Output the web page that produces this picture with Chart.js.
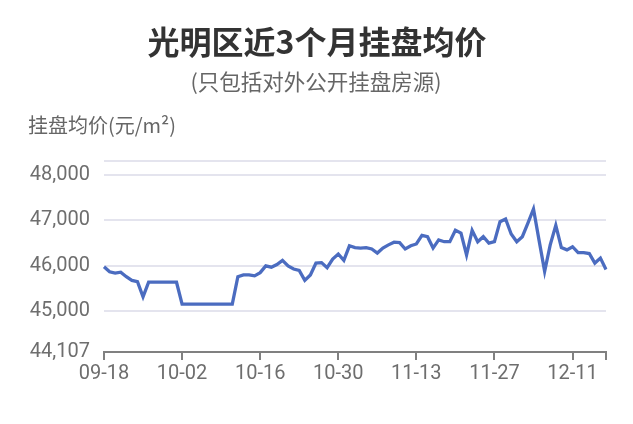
<!DOCTYPE html>
<html>
<head>
<meta charset="utf-8">
<script src="https://cdn.jsdelivr.net/npm/chart.js@4.4.1/dist/chart.umd.min.js"></script>
<style>
  html, body { margin: 0; padding: 0; background: #fff; }
  #wrap { width: 633px; height: 424px; position: relative; }
</style>
</head>
<body>
<div id="wrap"><canvas id="c" width="633" height="424"></canvas></div>
<script>
// Textos
var titulo = "光明区近3个月挂盘均价";
var subtitulo = "(只包括对外公开挂盘房源)";
var etiquetaY = "挂盘均价(元/m²)";

// Fechas (categorías)
var fechas = [
  "09-18","09-19","09-20","09-21","09-22","09-23","09-24","09-25","09-26","09-27","09-28","09-29","09-30",
  "10-01","10-02","10-03","10-04","10-05","10-06","10-07","10-08","10-09","10-10","10-11","10-12","10-13",
  "10-14","10-15","10-16","10-17","10-18","10-19","10-20","10-21","10-22","10-23","10-24","10-25","10-26",
  "10-27","10-28","10-29","10-30","10-31","11-01","11-02","11-03","11-04","11-05","11-06","11-07","11-08",
  "11-09","11-10","11-11","11-12","11-13","11-14","11-15","11-16","11-17","11-18","11-19","11-20","11-21",
  "11-22","11-23","11-24","11-25","11-26","11-27","11-28","11-29","11-30","12-01","12-02","12-03","12-04",
  "12-05","12-06","12-07","12-08","12-09","12-10","12-11","12-12","12-13","12-14","12-15","12-16","12-17"
];

// Precio medio (元/m²)
var precios = [
  45980,45870,45840,45860,45760,45680,45650,45320,45640,45640,45640,45640,45640,
  45640,45160,45160,45160,45160,45160,45160,45160,45160,45160,45160,45760,45800,
  45800,45780,45850,46000,45970,46030,46120,46000,45930,45900,45680,45800,46060,
  46070,45960,46150,46260,46120,46440,46400,46390,46400,46370,46280,46390,46460,
  46520,46510,46370,46440,46480,46670,46640,46390,46570,46530,46530,46780,46720,
  46240,46780,46530,46640,46500,46530,46970,47030,46700,46530,46640,46940,47250,
  46560,45880,46460,46890,46400,46350,46420,46290,46290,46270,46060,46170,45920
];

// Eje Y
var yMin = 44107;
var yMax = 48303;
var yTicks = [45000, 46000, 47000, 48000];
var pasoX = 14;

var textos = {
  id: "textos",
  afterDraw: function (chart) {
    var ctx = chart.ctx;
    ctx.save();
    ctx.textBaseline = "middle";
    ctx.textAlign = "center";
    ctx.fillStyle = "#333";
    ctx.font = 'bold 32px "Noto Sans CJK SC", sans-serif';
    ctx.fillText(titulo, 317, 42);
    ctx.fillStyle = "#666";
    ctx.font = '21.5px "Noto Sans CJK SC", sans-serif';
    ctx.fillText(subtitulo, 316, 82);
    ctx.textAlign = "left";
    ctx.font = '20px "Noto Sans CJK SC", sans-serif';
    ctx.fillText(etiquetaY, 28, 125);
    ctx.restore();
  }
};

var tickFont = { family: "Roboto", size: 20 };

new Chart(document.getElementById("c"), {
  type: "line",
  data: {
    labels: fechas,
    datasets: [{
      data: precios,
      borderColor: "#4b6cc0",
      borderWidth: 3.3,
      pointRadius: 0,
      tension: 0,
      fill: false
    }]
  },
  options: {
    responsive: false,
    animation: false,
    layout: { padding: { top: 161, right: 27, left: 0, bottom: 0 } },
    plugins: { legend: { display: false }, tooltip: { enabled: false } },
    scales: {
      x: {
        ticks: {
          autoSkip: false, maxRotation: 0, color: "#6e6e6e", font: tickFont, padding: 2,
          callback: function (v, i) { return i % pasoX === 0 ? fechas[i] : ""; }
        },
        grid: {
          drawOnChartArea: false, drawTicks: true, tickLength: 8, lineWidth: 2,
          color: function (c) {
            return (c.index % pasoX === 0 || c.index === fechas.length - 1) ? "#808080" : "rgba(0,0,0,0)";
          }
        },
        border: { display: true, color: "#808080", width: 2 },
        afterFit: function (s) { s.height = 72; }
      },
      y: {
        min: yMin, max: yMax,
        afterBuildTicks: function (s) {
          s.ticks = [yMin].concat(yTicks, [yMax]).map(function (v) { return { value: v }; });
        },
        ticks: {
          color: "#6e6e6e", font: tickFont, padding: 14,
          callback: function (v) { return v === yMax ? "" : v.toLocaleString("en-US"); }
        },
        grid: {
          drawTicks: false, lineWidth: 2,
          color: function (c) { return c.tick && c.tick.value === yMin ? "rgba(0,0,0,0)" : "#e4e4ee"; }
        },
        border: { display: false },
        afterFit: function (s) { s.width = 104; }
      }
    }
  },
  plugins: [textos]
});
</script>
</body>
</html>
